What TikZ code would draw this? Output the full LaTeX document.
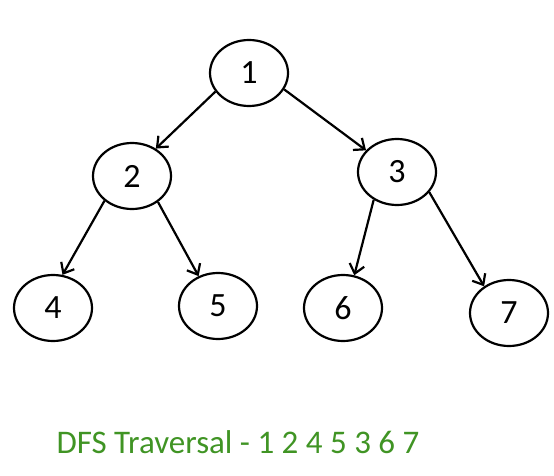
\documentclass[tikz,border=0pt]{standalone}
\usepackage{fontspec}
\setmainfont{Carlito}
\usetikzlibrary{shapes.geometric,arrows.meta}
\definecolor{dfsgreen}{RGB}{64,148,36}
\tikzset{
  vertex/.style={ellipse, draw, line width=2.2pt, minimum width=78pt, minimum height=66pt, inner sep=0pt, font=\fontsize{34}{34}\selectfont},
  edge/.style={-{Straight Barb[length=9pt,width=15pt,line width=2.2pt]}, line width=2.2pt}
}
\begin{document}
\begin{tikzpicture}[x=1pt, y=-1pt]
\useasboundingbox (0, 0) rectangle (554, 476);
\node[vertex] (n1) at (249, 73) {1};
\node[vertex] (n2) at (132, 176) {2};
\node[vertex] (n3) at (397, 172) {3};
\node[vertex] (n4) at (53, 308) {4};
\node[vertex] (n5) at (218, 306) {5};
\node[vertex] (n6) at (343, 308) {6};
\node[vertex] (n7) at (509, 313) {7};
\draw[edge] (n1.209) -- (n2.49);
\draw[edge] (n1.335) -- (n3.145);
\draw[edge] (n2.222) -- (n4.74);
\draw[edge] (n2.315) -- (n5.123);
\draw[edge] (n3.230) -- (n6.71);
\draw[edge] (n3.328) -- (n7.133);
\node[text=dfsgreen, font=\fontsize{33}{33}\selectfont] (dfs) at (238, 442) {DFS Traversal - 1 2 4 5 3 6 7};
\end{tikzpicture}
\end{document}
